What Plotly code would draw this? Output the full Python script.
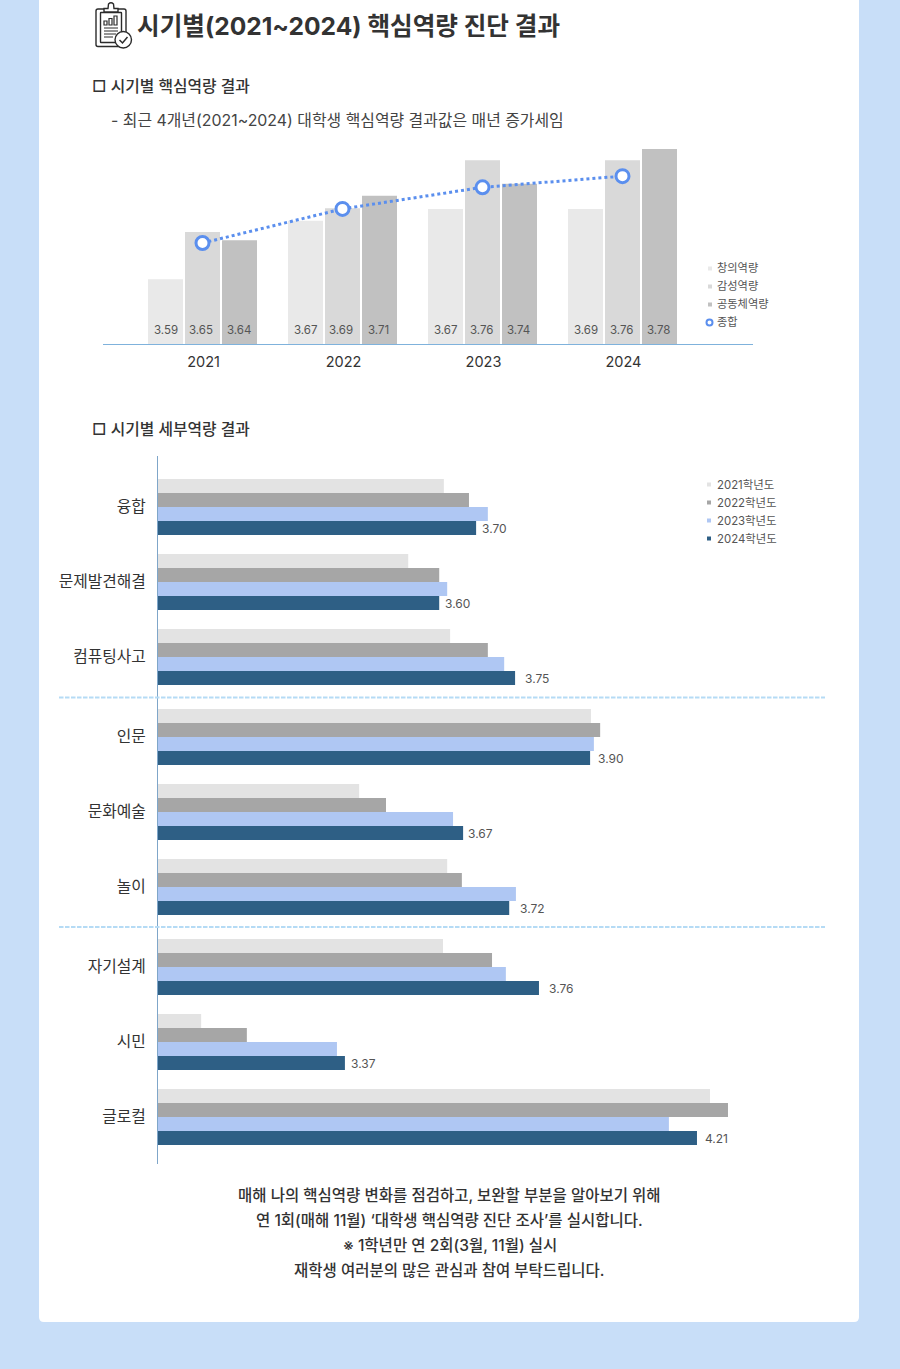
import plotly.graph_objects as go

# ---------- top chart data ----------
years = [2021, 2022, 2023, 2024]
creative_labels = ["3.59", "3.67", "3.67", "3.69"]
emotion_labels = ["3.65", "3.69", "3.76", "3.76"]
community_labels = ["3.64", "3.71", "3.74", "3.78"]
# bar heights as drawn in the picture (not strictly proportional to the printed numbers)
creative_heights = [3.593, 3.677, 3.694, 3.694]
emotion_heights = [3.661, 3.695, 3.764, 3.764]
community_heights = [3.649, 3.713, 3.730, 3.780]
overall_values = [3.645, 3.694, 3.725, 3.741]
top_series = ["창의역량", "감성역량", "공동체역량"]

# ---------- bottom chart data ----------
categories = ["융합", "문제발견해결", "컴퓨팅사고", "인문", "문화예술", "놀이", "자기설계", "시민", "글로컬"]
section_of_category = [0, 0, 0, 1, 1, 1, 2, 2, 2]
values_2021 = [3.606, 3.521, 3.621, 3.957, 3.404, 3.614, 3.604, 3.027, 4.241]
values_2022 = [3.666, 3.595, 3.711, 3.979, 3.468, 3.649, 3.721, 3.136, 4.284]
values_2023 = [3.711, 3.614, 3.750, 3.964, 3.628, 3.778, 3.754, 3.351, 4.143]
values_2024 = [3.683, 3.595, 3.776, 3.955, 3.652, 3.762, 3.833, 3.370, 4.210]
labels_2024 = ["3.70", "3.60", "3.75", "3.90", "3.67", "3.72", "3.76", "3.37", "4.21"]
label_gaps = [4, 4, 8, 6, 3, 9, 8, 4, 6]
bottom_series = ["2021학년도", "2022학년도", "2023학년도", "2024학년도"]

FONT = "Inter, 'Noto Sans CJK KR', sans-serif"
W, H = 900, 1369
PAGE = "#C8DEF8"
TOP_COLORS = ["#E9E9E9", "#D9D9D9", "#C1C1C1"]
LINE_BLUE = "#5B8FEE"
BOT_COLORS = ["#E3E3E3", "#A6A6A6", "#AFC7F3", "#2E5F85"]
AXIS_BLUE = "#7FB2DC"


def fx(x):
    return x / W


def fy(y):
    return 1 - y / H


def path(*cmds):
    out = []
    for c in cmds:
        if isinstance(c, str):
            out.append(c)
        else:
            out.append(f"{fx(c[0]):.5f},{fy(c[1]):.5f}")
    return " ".join(out)


def rrect(x0, y0, x1, y1, r):
    return path("M", (x0 + r, y0), "L", (x1 - r, y0), "Q", (x1, y0), (x1, y0 + r),
                "L", (x1, y1 - r), "Q", (x1, y1), (x1 - r, y1),
                "L", (x0 + r, y1), "Q", (x0, y1), (x0, y1 - r),
                "L", (x0, y0 + r), "Q", (x0, y0), (x0 + r, y0), "Z")


fig = go.Figure()

BAR_STEP = 37 / 140
BOT_STEP = 14 / 75

# top chart traces
for k, (name, vals, col) in enumerate(zip(top_series, [creative_heights, emotion_heights, community_heights], TOP_COLORS)):
    fig.add_trace(go.Bar(x=years, y=vals, name=name, marker=dict(color=col, line_width=0),
                         width=35 / 140, offset=(k - 1.5) * BAR_STEP + 1 / 140,
                         xaxis="x", yaxis="y", showlegend=False))
fig.add_trace(go.Scatter(x=years, y=overall_values, name="종합", mode="lines+markers",
                         line=dict(color=LINE_BLUE, width=3, dash="dot"),
                         marker=dict(size=13, color="white", line=dict(color=LINE_BLUE, width=3)),
                         xaxis="x", yaxis="y", showlegend=False))

# bottom chart: categories keep one band each, with a small extra gap between the three sections
SECTION_GAP = 5 / 75
positions = [i + s * SECTION_GAP for i, s in enumerate(section_of_category)]
for k, (name, vals, col) in enumerate(zip(bottom_series, [values_2021, values_2022, values_2023, values_2024], BOT_COLORS)):
    fig.add_trace(go.Bar(y=positions, x=vals, name=name, orientation="h",
                         marker=dict(color=col, line_width=0),
                         width=BOT_STEP, offset=(k - 2) * BOT_STEP,
                         xaxis="x2", yaxis="y2", showlegend=False))

ann = []


def text(x, y, s, size=12, color="#333333", anchor="left", weight=400):
    # annotations carry about 2px of inner padding on the anchored side
    ax = x - 2 if anchor == "left" else x
    ann.append(dict(xref="paper", yref="paper", x=fx(ax), y=fy(y), text=s, showarrow=False,
                    xanchor=anchor, yanchor="middle", font=dict(family=FONT, size=size, color=color, weight=weight)))


# headings
text(137, 25.5, "시기별(2021~2024) 핵심역량 진단 결과", size=24.6, weight=700, color="#333333")
text(92, 86, "□ 시기별 핵심역량 결과", size=15.8, color="#333333", weight=500)
text(111, 120, "- 최근 4개년(2021~2024) 대학생 핵심역량 결과값은 매년 증가세임", size=15.9, color="#444444")
text(92, 430, "□ 시기별 세부역량 결과", size=15.8, color="#333333", weight=500)

# bar labels, top chart
label_nudges = [0, -1.5, -1]
for i, labels in enumerate([creative_labels, emotion_labels, community_labels]):
    for yr, lab in zip(years, labels):
        ann.append(dict(xref="x", yref="y", x=yr + (i - 1) * BAR_STEP, y=3.5, yshift=14, xshift=label_nudges[i], text=lab,
                        showarrow=False, xanchor="center", yanchor="middle",
                        font=dict(family=FONT, size=11.5, color="#555555")))

# value labels, bottom chart
for p, v, lab, gap in zip(positions, values_2024, labels_2024, label_gaps):
    ann.append(dict(xref="x2", yref="y2", x=v, y=p + 1.5 * BOT_STEP, xshift=gap, yshift=-0.5, text=lab,
                    showarrow=False, xanchor="left", yanchor="middle",
                    font=dict(family=FONT, size=12, color="#555555")))

# legends
for i, (name, col) in enumerate(zip(top_series, TOP_COLORS)):
    text(716.5, 268 + 18 * i, name, size=11.2, color="#555555")
text(716.5, 322, "종합", size=11.2, color="#555555")
for i, name in enumerate(bottom_series):
    text(717, 484.7 + 18 * i, name, size=11.4, color="#555555")

# bottom note
notes = ["매해 나의 핵심역량 변화를 점검하고, 보완할 부분을 알아보기 위해",
         "연 1회(매해 11월) ‘대학생 핵심역량 진단 조사’를 실시합니다.",
         "※ 1학년만 연 2회(3월, 11월) 실시",
         "재학생 여러분의 많은 관심과 참여 부탁드립니다."]
for i, n in enumerate(notes):
    text(449.5, 1195 + 25 * i, n, size=15.5, color="#333333", anchor="center", weight=500)

shapes = []


def sh(**k):
    k.setdefault("xref", "paper")
    k.setdefault("yref", "paper")
    shapes.append(k)


# card
sh(type="path", path=path("M", (39, -20), "L", (859, -20), "L", (859, 1317), "Q", (859, 1322), (854, 1322),
                          "L", (44, 1322), "Q", (39, 1322), (39, 1317), "Z"),
   fillcolor="white", line_width=0, layer="below")

# legend swatches
for i, col in enumerate(TOP_COLORS):
    y = 268.5 + 18 * i
    sh(type="rect", x0=fx(708), x1=fx(712), y0=fy(y - 2), y1=fy(y + 2), fillcolor=col, line_width=0)
sh(type="circle", x0=fx(706.5), x1=fx(712.5), y0=fy(319.5), y1=fy(325.5), fillcolor="white",
   line=dict(color=LINE_BLUE, width=2))
for i, col in enumerate(BOT_COLORS):
    y = 484.5 + 18 * i
    sh(type="rect", x0=fx(707), x1=fx(711), y0=fy(y - 2), y1=fy(y + 2), fillcolor=col, line_width=0)

# section separators
for y in (697.5, 927):
    sh(type="line", x0=fx(59), x1=fx(825), y0=fy(y), y1=fy(y), line=dict(color="#B5DBF5", width=2, dash="4.5px,1.5px"))

# clipboard icon
ink = dict(color="#2B2B2B", width=1.4)
sh(type="path", path=rrect(96, 9, 126, 46.5, 2), fillcolor="white", line=ink)
sh(type="path", path=rrect(100.5, 12.5, 121.5, 42.5, 0.5), fillcolor="white", line=ink)
sh(type="path", path=path("M", (104, 12), "L", (104, 8.5), "L", (108, 8.5), "L", (108.5, 4), "Q", (111, 1.5), (113.5, 4),
                          "L", (114, 8.5), "L", (118, 8.5), "L", (118, 12), "Z"), fillcolor="white", line=ink)
for bx, bt in ((104, 21), (109, 18.5), (114, 16)):
    sh(type="rect", x0=fx(bx), x1=fx(bx + 3), y0=fy(25), y1=fy(bt), fillcolor="white", line=dict(color="#2B2B2B", width=1.2))
for ly, x2 in ((28, 118), (31, 118), (34, 116), (37, 113)):
    sh(type="line", x0=fx(104), x1=fx(x2), y0=fy(ly), y1=fy(ly), line=dict(color="#2B2B2B", width=1))
sh(type="circle", x0=fx(115), x1=fx(131.5), y0=fy(48), y1=fy(31.5), fillcolor="white", line=ink)
sh(type="path", path=path("M", (119.5, 40), "L", (122.5, 43), "L", (127.5, 37)), line=dict(color="#2B2B2B", width=1.5))

# axis ranges are derived from where the plot areas sit on the page
TOP_X0, TOP_X1, TOP_Y0, TOP_Y1 = 103, 753, 140, 344
BOT_X0, BOT_X1, BOT_Y0, BOT_Y1 = 158, 826, 456, 1164
TOP_PX_X = 140
x_low = 2021 - (202.5 - TOP_X0) / TOP_PX_X
x_high = 2024 + (TOP_X1 - 622.5) / TOP_PX_X
y_per_px = 0.28 / 195
BOT_PX = 75
bot_per_px = 0.002386

fig.update_layout(
    width=W, height=H, margin=dict(l=0, r=0, t=0, b=0), autosize=False,
    paper_bgcolor=PAGE, plot_bgcolor="rgba(0,0,0,0)",
    font=dict(family=FONT),
    showlegend=False, barmode="overlay",
    annotations=ann, shapes=shapes,
    xaxis=dict(domain=[fx(TOP_X0), fx(TOP_X1)], range=[x_low, x_high], tickmode="array", tickvals=years,
               ticktext=[str(y) for y in years], showgrid=False, zeroline=False, showline=True,
               linecolor=AXIS_BLUE, linewidth=1, ticks="", ticklabelstandoff=5, ticklabelshift=1,
               tickfont=dict(family=FONT, size=14.5, color="#333333"), anchor="y"),
    yaxis=dict(domain=[fy(TOP_Y1), fy(TOP_Y0)], range=[3.5, 3.5 + (TOP_Y1 - TOP_Y0) * y_per_px],
               visible=False, anchor="x"),
    xaxis2=dict(domain=[fx(BOT_X0), fx(BOT_X1)], range=[2.924, 2.924 + (BOT_X1 - BOT_X0) * bot_per_px],
                visible=False, anchor="y2"),
    yaxis2=dict(domain=[fy(BOT_Y1), fy(BOT_Y0)],
                range=[(BOT_Y1 - 507) / BOT_PX, (BOT_Y0 - 507) / BOT_PX],
                tickmode="array", tickvals=positions, ticktext=categories, showgrid=False, zeroline=False,
                showline=True, linecolor="#7FA6C9", linewidth=1, ticks="", ticklabelstandoff=8, ticklabelshift=1,
                tickfont=dict(family=FONT, size=15.8, color="#333333"), anchor="x2"),
)

fig.write_html("out.html", config={"displayModeBar": False},
               post_script="document.documentElement.style.overflow='hidden';document.body.style.margin='0';")
